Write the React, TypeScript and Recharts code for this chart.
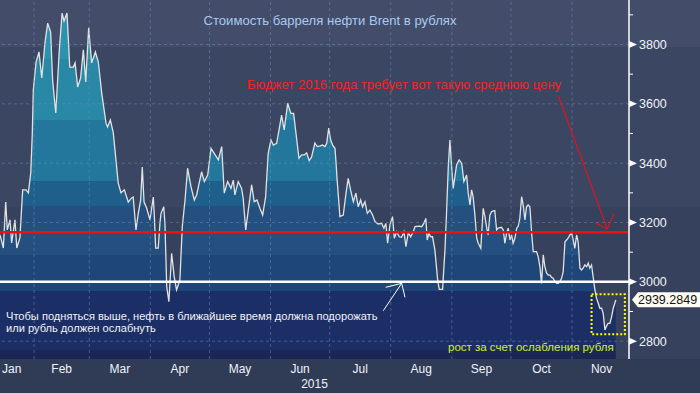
import React from 'react';
import { ComposedChart, Area, XAxis, YAxis, ReferenceLine, ReferenceArea } from 'recharts';

const W = 700;
const H = 393;
const AXIS_H = 34;
const PLOT_H = H - AXIS_H;
const FONT = '"Liberation Sans", Arial, sans-serif';

const Y_MIN = 2740;
const Y_MAX = 3950;
const DAY_MIN = 13.7;
const DAY_MAX = 332.9;

// day of year 2015 (0 = Jan 1)
const days = [
  13.7, 15.4, 16.6, 17.4, 18.8, 19.6, 21.3, 22.2, 23.8, 25.2,
  26.9, 28.1, 29.3, 30.1, 30.6, 32.0, 33.5, 34.9, 36.5, 37.9,
  39.4, 40.4, 42.0, 43.8, 45.2, 46.2, 47.7, 49.1, 50.9, 51.8,
  53.1, 54.6, 56.0, 57.2, 58.7, 60.2, 62.1, 63.6, 65.3, 67.5,
  68.3, 69.7, 71.2, 73.7, 75.1, 76.8, 78.8, 80.5, 81.3, 82.7,
  83.9, 85.1, 85.9, 86.8, 88.1, 89.8, 91.5, 92.0, 92.7, 94.0,
  94.9, 95.4, 96.8, 97.4, 98.3, 99.4, 100.8, 102.1, 103.3, 105.0,
  106.2, 107.6, 108.9, 110.6, 112.3, 113.5, 116.0, 117.4, 119.1, 120.8,
  122.4, 124.5, 126.2, 127.5, 129.2, 130.9, 132.1, 132.9, 134.6, 136.3,
  137.1, 138.4, 139.7, 141.4, 142.7, 144.1, 145.6, 147.0, 148.5, 149.8,
  151.2, 152.4, 154.1, 155.3, 156.6, 157.9, 159.7, 161.3, 162.7, 163.7,
  165.4, 166.8, 168.1, 169.3, 170.6, 171.8, 173.5, 174.7, 176.1, 177.4,
  178.6, 179.5, 180.5, 181.5, 182.5, 183.7, 184.2, 184.8, 186.2, 187.9,
  189.3, 190.4, 191.6, 193.0, 194.3, 195.5, 196.7, 197.7, 198.9, 200.1,
  201.4, 202.8, 204.0, 205.6, 207.4, 208.5, 209.5, 210.4, 211.6, 212.9,
  213.8, 215.0, 216.3, 217.5, 218.7, 219.7, 220.9, 222.1, 223.4, 224.3,
  226.4, 227.7, 228.8, 229.8, 230.5, 231.4, 232.2, 233.2, 234.4, 235.8,
  236.6, 238.3, 239.5, 240.3, 241.2, 242.0, 242.9, 243.7, 245.4, 246.7,
  248.0, 249.1, 250.5, 251.3, 252.2, 253.0, 253.8, 254.7, 255.6, 256.4,
  257.7, 258.9, 259.8, 260.6, 261.4, 262.3, 263.2, 264.8, 265.7, 266.5,
  268.2, 269.1, 269.9, 270.8, 271.6, 272.5, 273.3, 274.1, 275.0, 275.9,
  276.7, 277.5, 278.4, 279.2, 280.1, 280.9, 281.7, 282.6, 283.5, 284.3,
  286.0, 286.8, 287.7, 288.5, 289.4, 290.2, 291.1, 291.9, 292.8, 293.6,
  294.4, 295.3, 296.2, 297.0, 297.8, 298.7, 299.5, 300.4, 301.2, 302.0,
  302.9, 303.8, 304.6, 305.4, 306.3, 307.1, 308.0, 308.8, 309.6, 310.5,
  311.4, 312.2, 313.0, 313.9, 314.7, 315.6, 316.4, 317.3, 318.1, 319.0,
  319.8, 320.7, 321.5, 322.3, 323.2, 324.1, 324.9, 325.7, 326.2,
];

// Brent in roubles
const prices = [
  3158, 3114, 3269, 3175, 3209, 3131, 3209, 3114, 3148, 3310,
  3310, 3300, 3367, 3502, 3647, 3741, 3775, 3687, 3805, 3872,
  3842, 3680, 3569, 3782, 3906, 3879, 3906, 3724, 3724, 3738,
  3657, 3687, 3782, 3674, 3856, 3738, 3775, 3741, 3637, 3535,
  3522, 3546, 3502, 3333, 3300, 3310, 3269, 3283, 3286, 3175,
  3232, 3276, 3387, 3269, 3249, 3209, 3286, 3225, 3114, 3114,
  3200, 3231, 3253, 3197, 2984, 2933, 3096, 3017, 2973, 3006,
  3186, 3276, 3383, 3321, 3276, 3293, 3371, 3338, 3360, 3450,
  3433, 3411, 3456, 3299, 3338, 3315, 3343, 3293, 3338, 3315,
  3282, 3175, 3242, 3327, 3270, 3276, 3248, 3225, 3287, 3433,
  3478, 3461, 3467, 3512, 3562, 3512, 3602, 3568, 3568, 3512,
  3417, 3428, 3428, 3435, 3409, 3420, 3468, 3456, 3458, 3461,
  3456, 3467, 3518, 3478, 3461, 3450, 3405, 3343, 3220, 3225,
  3299, 3349, 3310, 3270, 3299, 3253, 3276, 3253, 3270, 3231,
  3242, 3225, 3203, 3195, 3197, 3181, 3197, 3130, 3192, 3220,
  3147, 3169, 3152, 3150, 3169, 3119, 3166, 3152, 3169, 3186,
  3188, 3186, 3197, 3214, 3141, 3164, 3152, 3152, 3107, 3006,
  2975, 2975, 3107, 3231, 3388, 3478, 3388, 3315, 3394, 3411,
  3400, 3338, 3360, 3299, 3259, 3310, 3287, 3225, 3147, 3130,
  3113, 3248, 3220, 3186, 3158, 3225, 3237, 3240, 3175, 3181,
  3184, 3175, 3130, 3164, 3181, 3141, 3158, 3130, 3147, 3181,
  3188, 3214, 3287, 3259, 3209, 3253, 3259, 3253, 3164, 3102,
  3102, 3085, 3051, 2995, 3091, 3051, 3029, 3023, 3023, 3015,
  3012, 3001, 2995, 2995, 3001, 3012, 3034, 3135, 3141, 3147,
  3158, 3164, 3141, 3113, 3158, 3135, 3046, 3040, 3046, 3057,
  3051, 3063, 3046, 3057, 3017, 2973, 2945, 2928, 2911, 2911,
  2894, 2838, 2851, 2860, 2860, 2883, 2911, 2928, 2939.2849,
];

const monthStarts = [31, 59, 90, 120, 151, 181, 212, 243, 273, 304];
const monthMids = [15.5, 45, 74.5, 105, 135.5, 166, 196.5, 227.5, 258, 288.5, 319];
const monthNames = ['Jan', 'Feb', 'Mar', 'Apr', 'May', 'Jun', 'Jul', 'Aug', 'Sep', 'Oct', 'Nov'];
const priceTicks = [2800, 2900, 3000, 3100, 3200, 3300, 3400, 3500, 3600, 3700, 3800, 3900];
const gridPrices = [2800, 3200, 3400, 3600, 3800];

const BUDGET_PRICE = 3167;
const FLOOR_PRICE = 3000;
const LAST_PRICE = prices[prices.length - 1];
const highlightDays = [313.9, 330.8];
const highlightPrices = [2823, 2958];

// stepped fill: band edges (price) and colours from top to bottom
const bandEdges = [3750, 3545, 3340, 3255, 3090, 2970, 2770];
const bandColors = ['#2b93ae', '#2888a6', '#23779c', '#1f5f8b', '#244f7f', '#1f4678', '#1c2e66', '#1b2654'];

const data = days.map((day, i) => ({ day, price: prices[i] }));

const off = (v: number) => (Y_MAX - v) / (Y_MAX - Y_MIN);

function PriceTick(props: any) {
  const { x, y, payload } = props;
  const v = payload.value;
  if (v % 200 !== 0) {
    return <line x1={x} x2={x + 4} y1={y} y2={y} stroke="#ffffff" strokeWidth={1} />;
  }
  return (
    <g>
      <polygon points={`${x},${y - 3.5} ${x + 8},${y} ${x},${y + 3.5}`} fill="#ffffff" />
      <text x={x + 10} y={y} dy="0.36em" fill="#eef3fb" fontSize={12.5} fontFamily={FONT}>
        {v}
      </text>
    </g>
  );
}

function MonthTick(props: any) {
  const { x, y, index } = props;
  const first = index === 0;
  return (
    <text
      x={first ? 2 : x}
      y={y + 13.5}
      textAnchor={first ? 'start' : 'middle'}
      fill="#eef3fb"
      fontSize={12}
      fontFamily={FONT}
    >
      {monthNames[index]}
    </text>
  );
}

function LastValueLabel(props: any) {
  const { viewBox } = props;
  if (!viewBox) return null;
  const x = viewBox.x + viewBox.width + 3;
  const y = viewBox.y;
  return (
    <g>
      <polygon
        points={`${x},${y} ${x + 6},${y - 7.5} ${x + 80},${y - 7.5} ${x + 80},${y + 7.5} ${x + 6},${y + 7.5}`}
        fill="#fffcf2"
      />
      <text x={x + 6} y={y} dy="0.36em" fill="#111111" fontSize={12.5} fontFamily={FONT}>
        {LAST_PRICE.toFixed(4)}
      </text>
    </g>
  );
}

export default function App() {
  const gridStroke = { stroke: '#6a93b4', strokeOpacity: 0.5, strokeDasharray: '3 3', strokeWidth: 1 };
  return (
    <div
      style={{
        position: 'fixed',
        left: 0,
        top: 0,
        width: W,
        height: H,
        background:
          'linear-gradient(to bottom, #434d69 0px, #434d69 47px, #3a4662 47px, #3a4662 207px, #35415d 207px, #35415d 359px, #303b56 359px, #303b56 393px)',
        fontFamily: FONT,
      }}
    >
      <ComposedChart width={W} height={H} data={data} margin={{ top: 0, right: 0, bottom: 0, left: 0 }}>
        <defs>
          <linearGradient id="bands" gradientUnits="userSpaceOnUse" x1="0" y1="0" x2="0" y2={PLOT_H}>
            {bandColors.map((c, i) => [
              <stop key={`a${i}`} offset={i === 0 ? 0 : off(bandEdges[i - 1])} stopColor={c} />,
              <stop key={`b${i}`} offset={i === bandColors.length - 1 ? 1 : off(bandEdges[i])} stopColor={c} />,
            ])}
          </linearGradient>
        </defs>
        <XAxis
          dataKey="day"
          type="number"
          domain={[DAY_MIN, DAY_MAX]}
          ticks={monthStarts}
          interval={0}
          height={0}
          tick={false}
          tickSize={4}
          tickLine={{ stroke: '#ffffff' }}
          axisLine={{ stroke: '#ffffff', strokeWidth: 1.5 }}
        />
        <XAxis
          xAxisId="labels"
          dataKey="day"
          type="number"
          domain={[DAY_MIN, DAY_MAX]}
          ticks={monthMids}
          interval={0}
          height={AXIS_H}
          tickSize={0}
          tickMargin={0}
          tickLine={false}
          axisLine={false}
          tick={<MonthTick />}
        />
        <YAxis
          orientation="right"
          width={W - 629}
          type="number"
          domain={[Y_MIN, Y_MAX]}
          ticks={priceTicks}
          interval={0}
          tickSize={0}
          tickMargin={0}
          tickLine={false}
          axisLine={{ stroke: '#ffffff', strokeWidth: 1.5 }}
          tick={<PriceTick />}
        />
        <Area
          type="linear"
          dataKey="price"
          stroke="#e2e2e2"
          strokeWidth={1.3}
          fill="url(#bands)"
          fillOpacity={1}
          dot={false}
          activeDot={false}
          isAnimationActive={false}
        />
        {gridPrices.map((v) => (
          <ReferenceLine key={`h${v}`} y={v} {...gridStroke} />
        ))}
        {monthStarts.map((d) => (
          <ReferenceLine key={`v${d}`} x={d} {...gridStroke} />
        ))}
        <ReferenceLine y={BUDGET_PRICE} stroke="#f01010" strokeWidth={2.5} />
        <ReferenceLine y={FLOOR_PRICE} stroke="#ffffff" strokeWidth={2.5} />
        <ReferenceArea
          x1={highlightDays[0]}
          x2={highlightDays[1]}
          y1={highlightPrices[0]}
          y2={highlightPrices[1]}
          fill="none"
          fillOpacity={0}
          stroke="#ffff00"
          strokeWidth={2}
          strokeDasharray="2 2"
        />
        <ReferenceLine y={LAST_PRICE} stroke="none" label={<LastValueLabel />} />
      </ComposedChart>
      <svg
        width={W}
        height={H}
        style={{ position: 'absolute', left: 0, top: 0, pointerEvents: 'none' }}
        fontFamily={FONT}
      >
        <text x={330} y={24.5} textAnchor="middle" fill="#a9c9f0" fontSize={13.1}>
          Стоимость барреля нефти Brent в рублях
        </text>
        <text x={247} y={89} fill="#ff1e1e" fontSize={13.1}>
          Бюджет 2016 года требует вот такую среднюю цену
        </text>
        <line x1={558.3} y1={95.7} x2={607.3} y2={229} stroke="#e0141e" strokeWidth={1.2} />
        <polyline points="595,222.7 607.3,229 614,214" fill="none" stroke="#e0141e" strokeWidth={1.2} />
        <text x={6} y={320} fill="#f2f2f2" fontSize={11.1}>
          Чтобы подняться выше, нефть в ближайшее время должна подорожать
        </text>
        <text x={6} y={332} fill="#f2f2f2" fontSize={11.1}>
          или рубль должен ослабнуть
        </text>
        <line x1={383.3} y1={310.7} x2={401.7} y2={283.3} stroke="#ffffff" strokeWidth={1} />
        <polyline points="385.7,287.3 401.7,283.3 405,297.3" fill="none" stroke="#ffffff" strokeWidth={1} />
        <text x={448} y={350.5} fill="#d4ee2c" fontSize={11.5}>
          рост за счет ослабления рубля
        </text>
        <text x={314.5} y={388} textAnchor="middle" fill="#eef3fb" fontSize={12}>
          2015
        </text>
      </svg>
    </div>
  );
}
